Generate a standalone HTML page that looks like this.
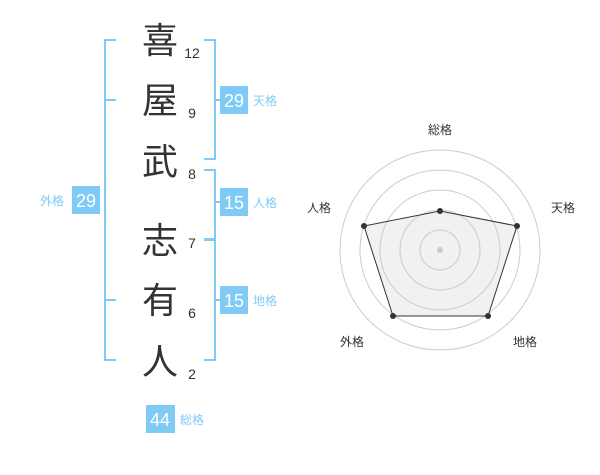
<!DOCTYPE html>
<html><head><meta charset="utf-8"><style>
html,body{margin:0;padding:0;background:#fff;}
svg text{font-family:"Liberation Sans","Noto Sans CJK JP",sans-serif;}
</style></head><body>
<svg width="600" height="470" xmlns="http://www.w3.org/2000/svg">
<g stroke="#7fcbf5" stroke-width="2" fill="none">
<path d="M116 40H105V360H116M105 100H116M105 300H116"/>
<path d="M204 40H215V159H204M215 100H222"/>
<path d="M204 170H215V239H204M215 202H222"/>
<path d="M204 240H215V360H204M215 300H222"/>
</g>
<g font-size="36" fill="#333" text-anchor="middle">
<text x="160" y="53">喜</text>
<text x="160" y="113">屋</text>
<text x="160" y="174">武</text>
<text x="160" y="253">志</text>
<text x="160" y="313">有</text>
<text x="160" y="374">人</text>
</g>
<g font-size="14" fill="#333" text-anchor="middle">
<text x="192" y="58">12</text>
<text x="192" y="118">9</text>
<text x="192" y="179">8</text>
<text x="192" y="248">7</text>
<text x="192" y="318">6</text>
<text x="192" y="379">2</text>
</g>
<g fill="#7fcbf5">
<rect x="220" y="86" width="28" height="28"/>
<rect x="220" y="188" width="28" height="28"/>
<rect x="220" y="286" width="28" height="28"/>
<rect x="72" y="186" width="28" height="28"/>
<rect x="146" y="405" width="29" height="28"/>
</g>
<g font-size="18" fill="#fff" text-anchor="middle">
<text x="234" y="107">29</text>
<text x="234" y="209">15</text>
<text x="234" y="307">15</text>
<text x="86" y="207">29</text>
<text x="160" y="426">44</text>
</g>
<g font-size="12" fill="#7fcbf5">
<text x="253" y="105">天格</text>
<text x="253" y="207">人格</text>
<text x="253" y="305">地格</text>
<text x="40" y="205">外格</text>
<text x="180" y="424">総格</text>
</g>
<g stroke="#ccc" fill="none" stroke-width="1">
<circle cx="440" cy="250" r="20"/><circle cx="440" cy="250" r="40"/>
<circle cx="440" cy="250" r="60"/><circle cx="440" cy="250" r="80"/>
<circle cx="440" cy="250" r="100"/>
</g>
<circle cx="440" cy="250" r="3" fill="#ccc"/>
<polygon points="440,211 517,226 488,316 393,316 364,226" fill="rgba(200,200,200,0.25)" stroke="#333" stroke-width="1"/>
<g fill="#333">
<circle cx="440" cy="211" r="3"/><circle cx="517" cy="226" r="3"/>
<circle cx="488" cy="316" r="3"/><circle cx="393" cy="316" r="3"/>
<circle cx="364" cy="226" r="3"/>
</g>
<g font-size="12" fill="#333" text-anchor="middle">
<text x="440" y="134">総格</text>
<text x="563" y="212">天格</text>
<text x="319" y="212">人格</text>
<text x="352" y="346">外格</text>
<text x="525" y="346">地格</text>
</g>
</svg>
</body></html>
